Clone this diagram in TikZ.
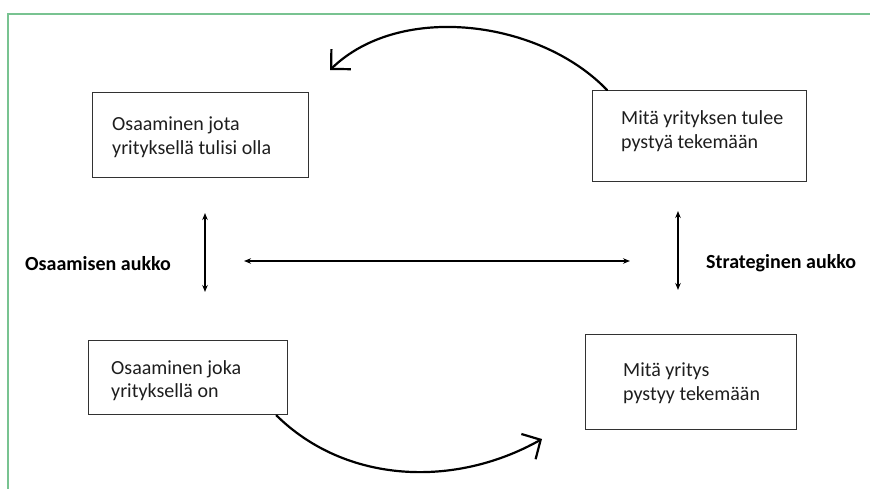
\documentclass[tikz,border=0pt]{standalone}
\usepackage{fontspec}
\setmainfont{Carlito}
\usetikzlibrary{arrows.meta,calc}
\definecolor{framegreen}{RGB}{120,195,145}
\definecolor{boxline}{RGB}{50,50,50}
\definecolor{txtcol}{RGB}{30,30,30}
\tikzset{
  box/.style={draw=boxline, line width=1.3pt, fill=white, inner sep=0pt},
  lbl/.style={font=\fontsize{20}{23.5}\selectfont, text=txtcol, align=left, inner sep=0pt, anchor=west},
  gaplbl/.style={font=\fontsize{20}{23.5}\selectfont\bfseries, text=black, inner sep=0pt, anchor=west},
  gaparrow/.style={line width=1.2pt, draw=black, arrows={Stealth[length=7pt,width=5.5pt]-Stealth[length=7pt,width=5.5pt]}},
  cyclearrow/.style={line width=2.2pt, line cap=round, draw=black},
  frameline/.style={draw=framegreen, line width=1.2pt}
}
\begin{document}
\begin{tikzpicture}[x=1pt,y=-1pt]
\useasboundingbox (0,0) rectangle (870,489);
\fill[white] (0,0) rectangle (870,489);
% green frame
\draw[frameline] (870,14) -- (8,14) -- (8,489);

% boxes
\node[box, anchor=north west, minimum width=216pt, minimum height=85pt] (b1) at (92,92) {};
\node[box, anchor=north west, minimum width=214pt, minimum height=91pt] (b2) at (592,90) {};
\node[box, anchor=north west, minimum width=199pt, minimum height=74pt] (b3) at (88,340) {};
\node[box, anchor=north west, minimum width=211pt, minimum height=95pt] (b4) at (585,334) {};

% box texts
\node[lbl] (t1) at ($(b1.west)+(20,2)$) {Osaaminen jota\\yrityksellä tulisi olla};
\node[lbl] (t2) at ($(b2.west)+(29,-5)$) {Mitä yrityksen tulee\\pystyä tekemään};
\node[lbl] (t3) at ($(b3.west)+(23,3)$) {Osaaminen joka\\yrityksellä on};
\node[lbl] (t4) at ($(b4.west)+(38,1)$) {Mitä yritys\\pystyy tekemään};

% gap labels
\node[gaplbl] (g1) at (25,264) {Osaamisen aukko};
\node[gaplbl] (g2) at (706,263) {Strateginen aukko};

% straight arrows
\coordinate (v1a) at (205,213);
\coordinate (v1b) at (205,292);
\coordinate (h1a) at (244,261);
\coordinate (h1b) at (630,261);
\coordinate (v2a) at (678,211);
\coordinate (v2b) at (678,290);
\draw[gaparrow] (v1a) -- (v1b);
\draw[gaparrow] (h1a) -- (h1b);
\draw[gaparrow] (v2a) -- (v2b);

% curved arrows
\coordinate (topend) at (330,70);
\coordinate (botend) at (542,439);
\draw[cyclearrow, -{Straight Barb[length=14pt,width=28pt]}]
  ($(b2.north west)+(15,0)$) .. controls (540,20) and (400,2) .. (topend);
\draw[cyclearrow, -{Straight Barb[length=14pt,width=29pt]}]
  ($(b3.south east)+(-12,0)$) .. controls (346,484) and (455,488) .. (botend);
\end{tikzpicture}
\end{document}
